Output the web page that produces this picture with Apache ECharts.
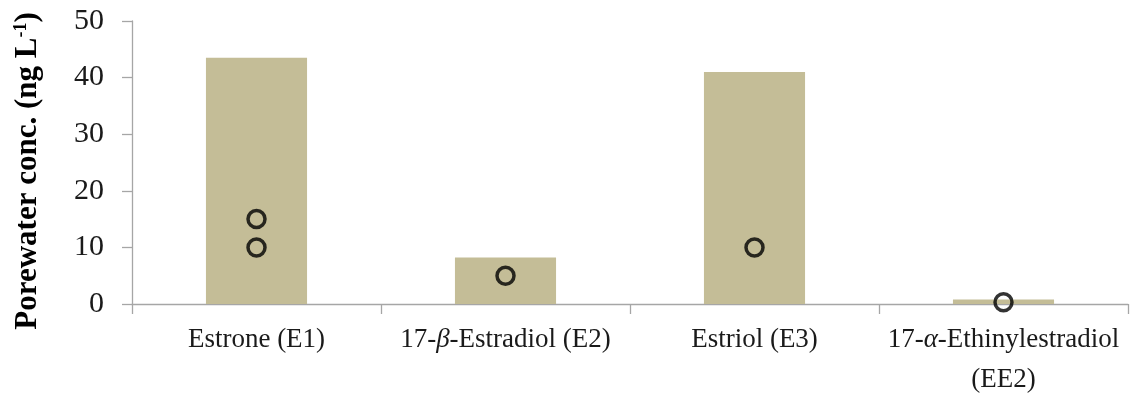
<!DOCTYPE html>
<html>
<head>
<meta charset="utf-8">
<script src="https://cdn.jsdelivr.net/npm/echarts@6/dist/echarts.min.js"></script>
<style>
html,body{margin:0;padding:0;background:#fff;}
#chart{width:1130px;height:397px;}
</style>
</head>
<body>
<div id="chart"></div>
<script>
// Categories (rich-text markup marks the italic Greek letters)
var categories = ['Estrone (E1)', '17-{i|β}-Estradiol (E2)', 'Estriol (E3)', '17-{i|α}-Ethinylestradiol\n(EE2)'];
// Bar values (ng/L)
var barValues = [43.5, 8.2, 41.0, 0.8];
// Individual sample points: category index and value
var pointCategoryIndex = [0, 0, 1, 2, 3];
var pointValues = [15, 10, 5, 10, 0.3];
// Y axis
var yTicks = { min: 0, max: 50, interval: 10 };

var chart = echarts.init(document.getElementById('chart'));
var serif = 'Liberation Serif';
var scatterData = pointValues.map(function (v, i) { return [pointCategoryIndex[i], v]; });

chart.setOption({
  animation: false,
  backgroundColor: '#ffffff',
  grid: { left: 132, right: 2, top: 21, bottom: 93, containLabel: false, outerBoundsMode: 'none' },
  xAxis: {
    type: 'category',
    data: categories,
    axisLine: { lineStyle: { color: '#a6a6a6', width: 1.3 } },
    axisTick: { show: true, length: 10, lineStyle: { color: '#a6a6a6', width: 1.3 } },
    axisLabel: {
      interval: 0,
      margin: 16,
      color: '#1a1a1a',
      fontFamily: serif,
      fontSize: 27,
      lineHeight: 40,
      rich: {
        i: { fontStyle: 'italic', fontFamily: serif, fontSize: 27, lineHeight: 40, color: '#1a1a1a' }
      }
    },
    splitLine: { show: false }
  },
  yAxis: {
    type: 'value',
    min: yTicks.min,
    max: yTicks.max,
    interval: yTicks.interval,
    name: 'Porewater conc. (ng L{sup|-1})',
    nameLocation: 'middle',
    nameRotate: 90,
    nameGap: 89,
    nameTextStyle: {
      fontFamily: serif,
      fontWeight: 'bold',
      fontSize: 31,
      color: '#000',
      padding: [0, 17, 0, 0],
      rich: {
        sup: { fontFamily: serif, fontWeight: 'bold', fontSize: 18, verticalAlign: 'top', color: '#000' }
      }
    },
    axisLine: { show: true, lineStyle: { color: '#a6a6a6', width: 1.3 } },
    axisTick: { show: true, length: 10, lineStyle: { color: '#a6a6a6', width: 1.3 } },
    axisLabel: {
      margin: 28,
      color: '#1a1a1a',
      fontFamily: serif,
      fontSize: 30
    },
    splitLine: { show: false }
  },
  series: [
    {
      type: 'bar',
      data: barValues,
      barWidth: '40.6%',
      itemStyle: { color: '#c4bd97' },
      z: 2
    },
    {
      type: 'scatter',
      data: scatterData,
      symbol: 'circle',
      symbolSize: 17,
      itemStyle: { color: 'rgba(0,0,0,0)', borderColor: '#000', borderWidth: 3.5 },
      z: 3
    }
  ]
});
</script>
</body>
</html>
